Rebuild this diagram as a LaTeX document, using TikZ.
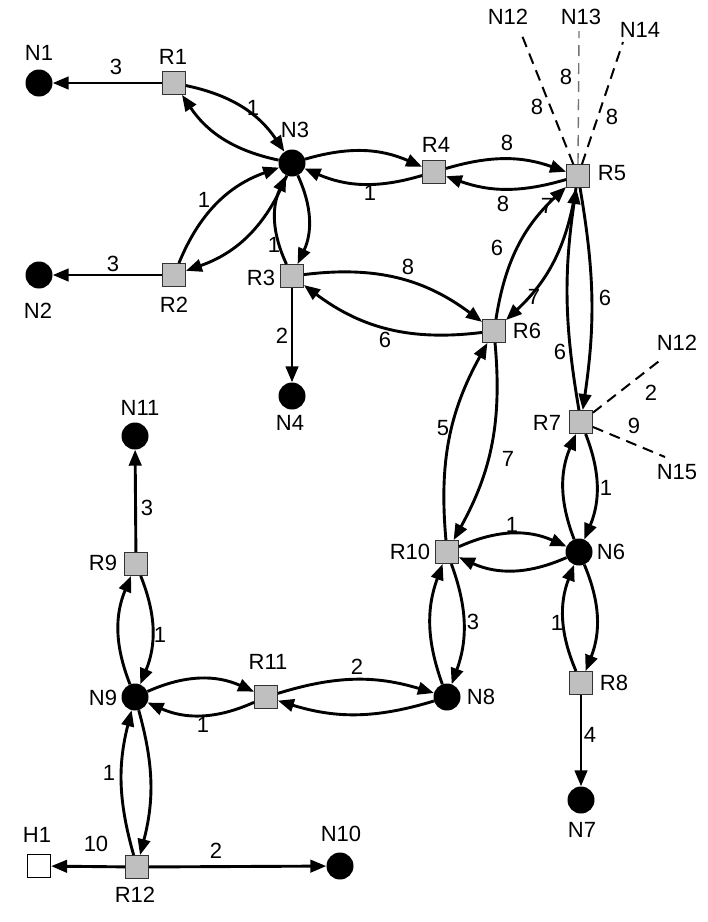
\documentclass[tikz,border=0pt]{standalone}
\usepackage{fontspec}
\setmainfont{Liberation Sans}
\usetikzlibrary{arrows.meta}

\begin{document}
\begin{tikzpicture}[x=1pt,y=-1pt,
        rt/.style={draw=black!80,line width=0.9pt,fill=black!25,minimum size=23pt,inner sep=0pt},
        nd/.style={circle,fill=black,minimum size=27pt,inner sep=0pt},
        hst/.style={draw=black,line width=1.3pt,fill=white,minimum size=23pt,inner sep=0pt},
        tag/.style={inner sep=0pt,font=\fontsize{22}{25}\selectfont},
        flow/.style={-{Triangle[length=16pt,width=12.5pt]},line width=2.9pt},
        ext/.style={dash pattern=on 11pt off 7pt,line width=2pt}]
        \useasboundingbox (0,0) rectangle (708,922);

        % routers and nodes
        \node[nd] (N1) at (39,83) {};
        \node[rt] (R1) at (174,83) {};
        \node[nd] (N3) at (292,163) {};
        \node[nd] (N2) at (39,275) {};
        \node[rt] (R2) at (174,275) {};
        \node[rt] (R3) at (292,276) {};
        \node[nd] (N4) at (292,396) {};
        \node[rt] (R4) at (434,172) {};
        \node[rt] (R5) at (578,176) {};
        \node[rt] (R6) at (494,331) {};
        \node[rt] (R7) at (581,422) {};
        \node[nd] (N6) at (579,552) {};
        \node[rt] (R10) at (447,552) {};
        \node[nd] (N8) at (447,697) {};
        \node[rt] (R11) at (266,697) {};
        \node[nd] (N9) at (135,697) {};
        \node[rt] (R9) at (136,564) {};
        \node[nd] (N11) at (135,436) {};
        \node[rt] (R8) at (581,683) {};
        \node[nd] (N7) at (581,800) {};
        \node[rt] (R12) at (137,867) {};
        \node[hst] (H1) at (39,866) {};
        \node[nd] (N10) at (340,866) {};

        % names
        \node[tag] (tN1) at (39,53) {N1};
        \node[tag] (tR1) at (173,57) {R1};
        \node[tag] (tN3) at (295,130) {N3};
        \node[tag] (tR2) at (174,305) {R2};
        \node[tag] (tN2) at (38,311) {N2};
        \node[tag] (tR3) at (261,278) {R3};
        \node[tag] (tN4) at (290,423) {N4};
        \node[tag] (tR4) at (436,145) {R4};
        \node[tag] (tR5) at (612,173) {R5};
        \node[tag] (tR6) at (527,331) {R6};
        \node[tag] (tR7) at (547,423) {R7};
        \node[tag] (tN6) at (611,552) {N6};
        \node[tag] (tR10) at (410,552) {R10};
        \node[tag] (tN8) at (481,697) {N8};
        \node[tag] (tR11) at (268,662) {R11};
        \node[tag] (tN9) at (103,698) {N9};
        \node[tag] (tR9) at (103,563) {R9};
        \node[tag] (tN11) at (140,408) {N11};
        \node[tag] (tR8) at (614,683) {R8};
        \node[tag] (tN7) at (582,830) {N7};
        \node[tag] (tR12) at (135,895) {R12};
        \node[tag] (tH1) at (37,835) {H1};
        \node[tag] (tN10) at (341,834) {N10};
        \node[tag] (tN12a) at (508,17) {N12};
        \node[tag] (tN13) at (581,17) {N13};
        \node[tag] (tN14) at (640,30) {N14};
        \node[tag] (tN12b) at (677,343) {N12};
        \node[tag] (tN15) at (677,472) {N15};

        % costs
        \node[tag] (w1) at (116,67) {3};
        \node[tag] (w2) at (253,108) {1};
        \node[tag] (w3) at (204,200) {1};
        \node[tag] (w4) at (113,264) {3};
        \node[tag] (w5) at (274,245) {1};
        \node[tag] (w6) at (370,193) {1};
        \node[tag] (w7) at (507,143) {8};
        \node[tag] (w8) at (503,204) {8};
        \node[tag] (w9) at (408,267) {8};
        \node[tag] (w10) at (385,340) {6};
        \node[tag] (w11) at (282,336) {2};
        \node[tag] (w12) at (443,428) {5};
        \node[tag] (w13) at (497,248) {6};
        \node[tag] (w14) at (534,297) {7};
        \node[tag] (w15) at (547,206) {7};
        \node[tag] (w16) at (605,298) {6};
        \node[tag] (w17) at (560,352) {6};
        \node[tag] (w18) at (508,459) {7};
        \node[tag] (w19) at (651,393) {2};
        \node[tag] (w20) at (634,426) {9};
        \node[tag] (w21) at (606,488) {1};
        \node[tag] (w22) at (512,525) {1};
        \node[tag] (w23) at (473,622) {3};
        \node[tag] (w24) at (557,623) {1};
        \node[tag] (w25) at (590,735) {4};
        \node[tag] (w26) at (357,667) {2};
        \node[tag] (w27) at (203,725) {1};
        \node[tag] (w28) at (160,635) {1};
        \node[tag] (w29) at (147,508) {3};
        \node[tag] (w30) at (109,773) {1};
        \node[tag] (w31) at (96,844) {10};
        \node[tag] (w32) at (216,851) {2};
        \node[tag] (w33) at (537,107) {8};
        \node[tag] (w34) at (566,77) {8};
        \node[tag] (w35) at (612,117) {8};

        % outside ends
        \coordinate (e12) at (521,33);
        \coordinate (e13) at (579,31);
        \coordinate (e14) at (623,42);
        \coordinate (f12) at (663,358);
        \coordinate (f15) at (665,457);

        \draw[ext] (R5) -- (e12);
        \draw[ext,black!55,line width=1.4pt] (R5.north) -- (e13);
        \draw[ext] (R5) -- (e14);
        \draw[ext] (R7) -- (f12);
        \draw[ext] (R7) -- (f15);

        % links
        \draw[flow] (R1) -- (N1);
        \draw[flow] (R2) -- (N2);
        \draw[flow] (R3) -- (N4);
        \draw[flow] (R8) -- (N7);
        \draw[flow] (R9) -- (N11);
        \draw[flow] (R12) -- (H1);
        \draw[flow] (R12) -- (N10);

        \draw[flow] (R1) to[bend left=22] (N3);
        \draw[flow] (N3) to[bend left=22] (R1);
        \draw[flow] (R2) to[bend left=24] (N3);
        \draw[flow] (N3) to[bend left=24] (R2);
        \draw[flow] (N3) to[bend left=25] (R3);
        \draw[flow] (R3) to[bend left=25] (N3);
        \draw[flow] (N3) to[bend left=20] (R4);
        \draw[flow] (R4) to[bend left=20] (N3);
        \draw[flow] (R4) to[bend left=18] (R5);
        \draw[flow] (R5) to[bend left=18] (R4);
        \draw[flow] (R3) to[bend left=22] (R6);
        \draw[flow] (R6) to[bend left=22] (R3);
        \draw[flow] (R6) to[bend left=19] (R5);
        \draw[flow] (R5) to[bend left=19] (R6);
        \draw[flow] (R5) to[bend left=9] (R7);
        \draw[flow] (R7) to[bend left=9] (R5);
        \draw[flow] (R10) to[bend left=17] (R6);
        \draw[flow] (R6) to[bend left=17] (R10);
        \draw[flow] (R7) to[bend left=22] (N6);
        \draw[flow] (N6) to[bend left=22] (R7);
        \draw[flow] (R10) to[bend left=24] (N6);
        \draw[flow] (N6) to[bend left=24] (R10);
        \draw[flow] (R10) to[bend left=20] (N8);
        \draw[flow] (N8) to[bend left=20] (R10);
        \draw[flow] (N6) to[bend left=22] (R8);
        \draw[flow] (R8) to[bend left=22] (N6);
        \draw[flow] (R11) to[bend left=17] (N8);
        \draw[flow] (N8) to[bend left=17] (R11);
        \draw[flow] (N9) to[bend left=24] (R11);
        \draw[flow] (R11) to[bend left=24] (N9);
        \draw[flow] (N9) to[bend left=22] (R9);
        \draw[flow] (R9) to[bend left=22] (N9);
        \draw[flow] (R12) to[bend left=15] (N9);
        \draw[flow] (N9) to[bend left=15] (R12);
\end{tikzpicture}
\end{document}
